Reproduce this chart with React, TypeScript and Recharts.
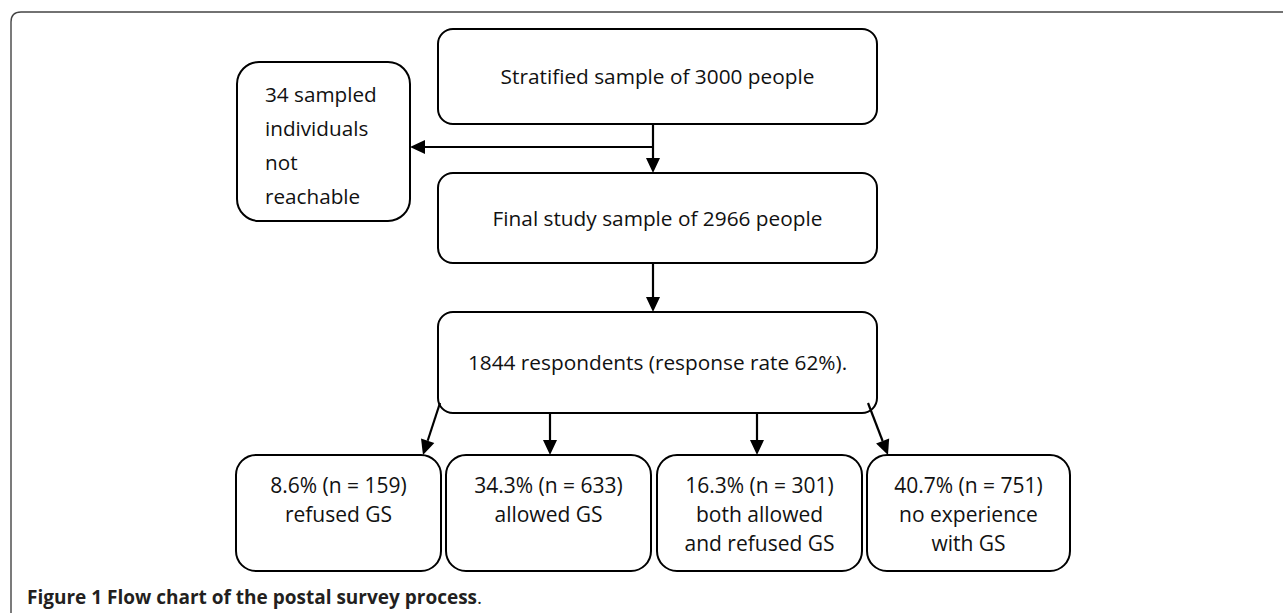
import React from "react";
import {
  ReferenceArea,
  ReferenceLine,
  Scatter,
  ScatterChart,
  XAxis,
  YAxis,
} from "recharts";

const W = 1283;
const H = 613;

// chart content
const mainSteps = [
  "Stratified sample of 3000 people",
  "Final study sample of 2966 people",
  "1844 respondents (response rate 62%).",
];
const excludedLines = ["34 sampled", "individuals", "not", "reachable"];
const outcomePct = ["8.6%", "34.3%", "16.3%", "40.7%"];
const outcomeN = [159, 633, 301, 751];
const outcomeLabels = [
  ["refused GS"],
  ["allowed GS"],
  ["both allowed", "and refused GS"],
  ["no experience", "with GS"],
];
const captionBold = "Figure 1";
const captionText = "Flow chart of the postal survey process";

// layout, in chart units (domain matches the pixel size)
const mainX = [438, 877];
const mainY = [
  [29, 124],
  [173, 263],
  [312, 413],
];
const sideBox = { x1: 237, x2: 410, y1: 62, y2: 221 };
const outcomeX = [
  [236, 441],
  [446, 651],
  [657, 862],
  [867, 1070],
];
const outcomeY = [455, 571];
const arrows = [
  [653, 124, 653, 173],
  [653, 147, 410, 147],
  [653, 263, 653, 312],
  [440, 403, 423, 455],
  [550, 413, 550, 455],
  [757, 413, 757, 455],
  [868, 403, 888, 455],
];

const FONT = "'Open Sans', sans-serif";

const Box = (
  r: number,
  lines: string[],
  align: "middle" | "start",
  fontSize: number,
  firstBase: number,
  step: number,
  padX = 0
) =>
  (props: any) => {
    const { x, y, width, height } = props;
    const tx = align === "middle" ? x + width / 2 : x + padX;
    return (
      <g>
        <rect x={x} y={y} width={width} height={height} rx={r} ry={r} fill="#fff" stroke="#000" strokeWidth={2} />
        <text fontFamily={FONT} fontSize={fontSize} fill="#111" textAnchor={align}>
          {lines.map((l, i) => (
            <tspan key={i} x={tx} y={y + firstBase + i * step}>
              {l}
            </tspan>
          ))}
        </text>
      </g>
    );
  };

const Arrow = (props: any) => {
  const { x1, y1, x2, y2 } = props;
  const dx = x2 - x1;
  const dy = y2 - y1;
  const len = Math.sqrt(dx * dx + dy * dy);
  const ux = dx / len;
  const uy = dy / len;
  const L = 15;
  const hw = 7;
  const bx = x2 - ux * L;
  const by = y2 - uy * L;
  const pts = `${x2},${y2} ${bx - uy * hw},${by + ux * hw} ${bx + uy * hw},${by - ux * hw}`;
  return (
    <g>
      <line x1={x1} y1={y1} x2={bx} y2={by} stroke="#000" strokeWidth={2.2} />
      <polygon points={pts} fill="#000" />
    </g>
  );
};

const Frame = (props: any) => {
  const { x, y, width, height } = props;
  const r = 10;
  return (
    <g>
      <path
        d={`M${x},${y + height} L${x},${y + r} Q${x},${y} ${x + r},${y} L${x + width},${y}`}
        fill="none"
        stroke="#444"
        strokeWidth={1.4}
      />
      <text x={x + 16} y={604} fontFamily={FONT} fontSize={19} fill="#231f20">
        <tspan fontWeight={700}>{captionBold} </tspan>
        <tspan fontWeight={700}>{captionText}</tspan>
        <tspan>.</tspan>
      </text>
    </g>
  );
};

export default function App() {
  return (
    <div style={{ position: "absolute", left: 0, top: 0, width: W, height: H, background: "#fff" }}>
      <ScatterChart width={W} height={H} margin={{ top: 0, right: 0, bottom: 0, left: 0 }}>
        <XAxis type="number" dataKey="x" domain={[0, W]} hide />
        <YAxis type="number" dataKey="y" domain={[0, H]} reversed hide />
        <Scatter
          data={[{ x: 0, y: 0 }, { x: W, y: H }]}
          shape={() => <g />}
          isAnimationActive={false}
        />
        <ReferenceArea x1={11} x2={W} y1={12} y2={H} shape={Frame} />
        {mainSteps.map((s, i) => (
          <ReferenceArea
            key={"m" + i}
            x1={mainX[0]}
            x2={mainX[1]}
            y1={mainY[i][0]}
            y2={mainY[i][1]}
            shape={Box(15, [s], "middle", 20.8, (mainY[i][1] - mainY[i][0]) / 2 + 7.5, 0)}
          />
        ))}
        <ReferenceArea
          x1={sideBox.x1}
          x2={sideBox.x2}
          y1={sideBox.y1}
          y2={sideBox.y2}
          shape={Box(22, excludedLines, "start", 20.7, 40, 34, 28)}
        />
        {outcomePct.map((p, i) => (
          <ReferenceArea
            key={"o" + i}
            x1={outcomeX[i][0]}
            x2={outcomeX[i][1]}
            y1={outcomeY[0]}
            y2={outcomeY[1]}
            shape={Box(20, [`${p} (n = ${outcomeN[i]})`, ...outcomeLabels[i]], "middle", 21, 38, 29)}
          />
        ))}
        {arrows.map((a, i) => (
          <ReferenceLine
            key={"a" + i}
            segment={[
              { x: a[0], y: a[1] },
              { x: a[2], y: a[3] },
            ]}
            shape={Arrow}
          />
        ))}
      </ScatterChart>
    </div>
  );
}
